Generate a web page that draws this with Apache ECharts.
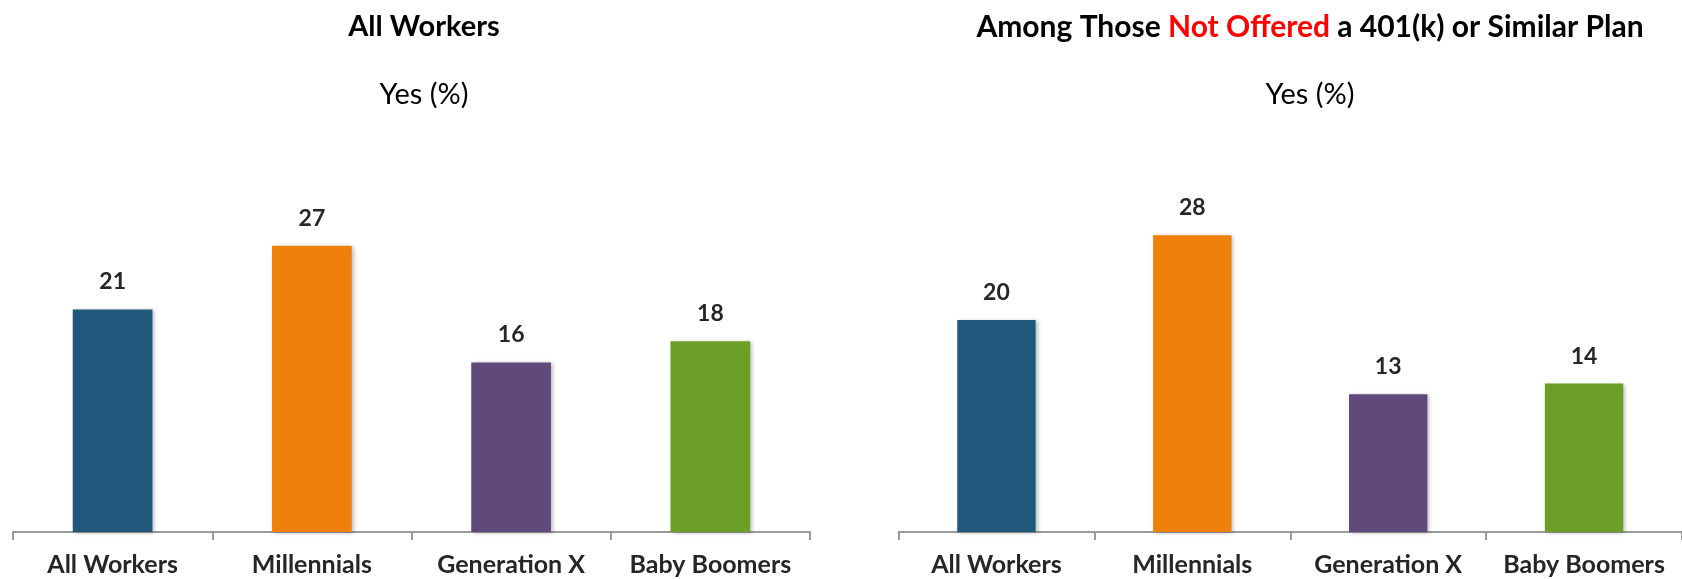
<!DOCTYPE html>
<html>
<head>
<meta charset="utf-8">
<script src="https://cdn.jsdelivr.net/npm/echarts@6/dist/echarts.min.js"></script>
<style>
html,body{margin:0;padding:0;background:#fff;}
#chart{width:1682px;height:579px;}
</style>
</head>
<body>
<div id="chart"></div>
<script>
const categories = ['All Workers', 'Millennials', 'Generation X', 'Baby Boomers'];
const allWorkersValues = [21, 27, 16, 18];
const notOfferedValues = [20, 28, 13, 14];
const barColors = ['#1F587A', '#EF800A', '#604A7B', '#6B9F28'];
const leftTitle = 'All Workers';
const rightTitle = 'Among Those {r|Not Offered} a 401(k) or Similar Plan';
const subTitle = 'Yes (%)';

const FONT = 'Lato, "Open Sans", sans-serif';
const chart = echarts.init(document.getElementById('chart'));

function mkData(vals) {
  return vals.map((v, i) => ({ value: v, itemStyle: { color: barColors[i] } }));
}
function xAxis(gi) {
  return {
    type: 'category', gridIndex: gi, data: categories,
    axisLine: { lineStyle: { color: '#9a9a9a', width: 2 } },
    axisTick: { show: true, interval: 0, length: 8, lineStyle: { color: '#9a9a9a', width: 2 } },
    axisLabel: { interval: 0, hideOverlap: false, color: '#262626', fontFamily: FONT, fontWeight: 'bold', fontSize: 25, margin: 20 }
  };
}
function yAxis(gi) {
  return { type: 'value', gridIndex: gi, min: 0, max: 30, show: false, splitLine: { show: false } };
}
function series(gi, vals) {
  return {
    type: 'bar', xAxisIndex: gi, yAxisIndex: gi, data: mkData(vals), barWidth: '40%',
    itemStyle: { shadowBlur: 4, shadowColor: 'rgba(0,0,0,0.25)', shadowOffsetX: 2, shadowOffsetY: 1 },
    label: { show: true, position: 'top', distance: 16, color: '#262626', fontFamily: FONT, fontWeight: 'bold', fontSize: 23 }
  };
}

chart.setOption({
  animation: false,
  backgroundColor: '#fff',
  title: [
    { text: leftTitle, left: 419, top: 7, textAlign: 'center',
      textStyle: { fontFamily: FONT, fontWeight: 'bold', fontSize: 29, color: '#000' } },
    { text: subTitle, left: 419, top: 75, textAlign: 'center',
      textStyle: { fontFamily: FONT, fontWeight: 'normal', fontSize: 29, color: '#000' } },
    { text: rightTitle, left: 1305, top: 7, textAlign: 'center',
      textStyle: { fontFamily: FONT, fontWeight: 'bold', fontSize: 30, color: '#000',
        rich: { r: { fontFamily: FONT, fontWeight: 'bold', fontSize: 30, color: '#FF0000' } } } },
    { text: subTitle, left: 1305, top: 75, textAlign: 'center',
      textStyle: { fontFamily: FONT, fontWeight: 'normal', fontSize: 29, color: '#000' } }
  ],
  grid: [
    { left: 13, top: 214, width: 797, height: 318 },
    { left: 898.5, top: 214, width: 799, height: 318 }
  ],
  xAxis: [xAxis(0), xAxis(1)],
  yAxis: [yAxis(0), yAxis(1)],
  series: [series(0, allWorkersValues), series(1, notOfferedValues)]
});
</script>
</body>
</html>
